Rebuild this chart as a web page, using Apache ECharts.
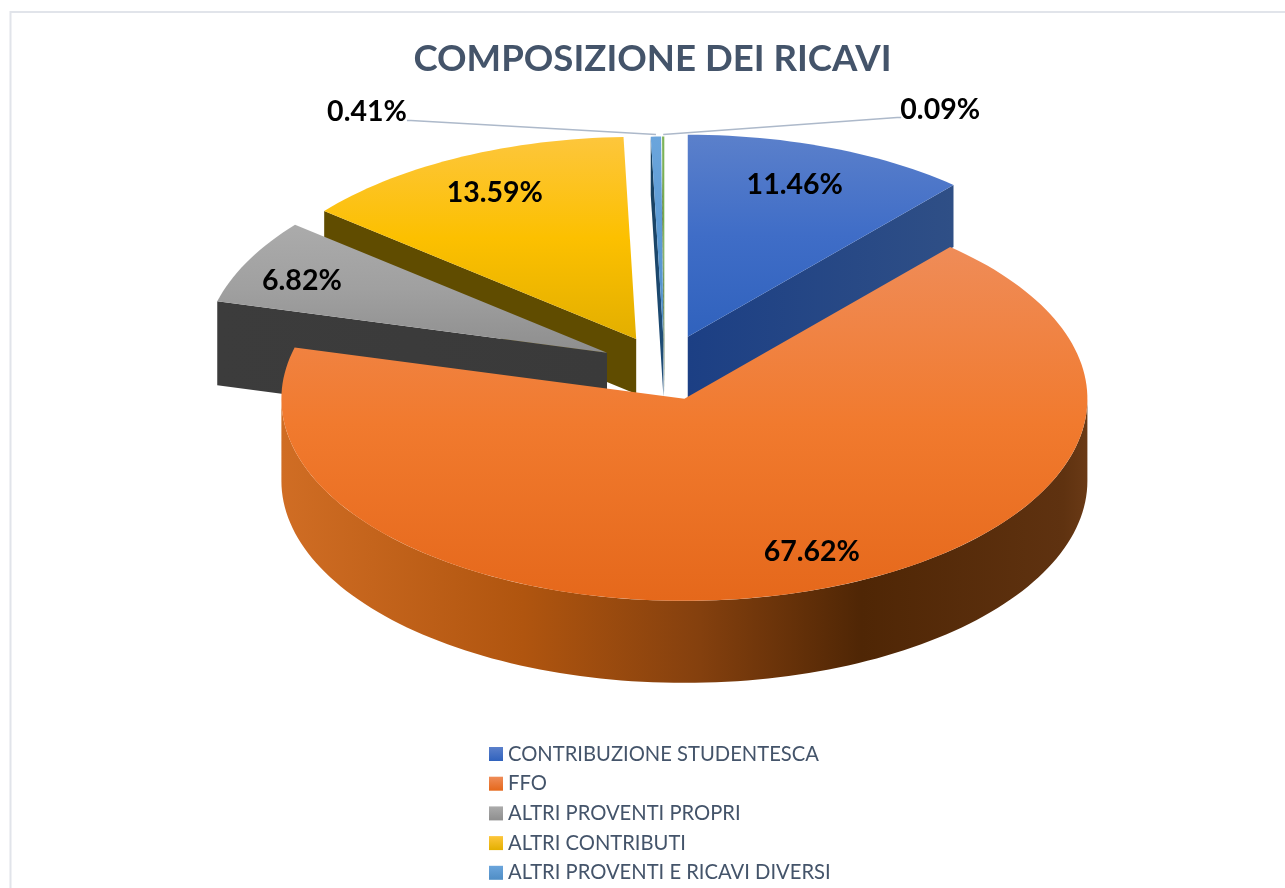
<!DOCTYPE html>
<html><head><meta charset="utf-8">
<style>html,body{margin:0;padding:0;background:#fff}#c{width:1285px;height:888px}</style>
<script src="https://cdn.jsdelivr.net/npm/echarts@6/dist/echarts.min.js"></script>
</head><body><div id="c"></div>
<script>
const titleText = 'COMPOSIZIONE DEI RICAVI';
const categories = ['CONTRIBUZIONE STUDENTESCA','FFO','ALTRI PROVENTI PROPRI','ALTRI CONTRIBUTI','ALTRI PROVENTI E RICAVI DIVERSI','ALTRO'];
const shares = [11.46, 67.62, 6.82, 13.59, 0.41, 0.09];
const legendCount = 5; // the sixth legend row falls below the picture

// --- styling of the tilted, exploded pie ---
const centre = {x:664.5, y:367}, RX = 403, RY = 202, EXPLODE_TILT = 0.49;
const explode = [66, 68, 64.5, 64, 58, 58];
const depth   = [62, 82, 84, 55, 58, 58];
const labelShift = [[-35,37],[9.5,-40],[54,20],[37,35],[-289,-25],[277,-27]];
const leaderShift = [null,null,null,null,[-245,-16],[234,-19]];
const drawOrder = [4,5,0,3,2,1];
const LABEL_FONT = 'bold 28.5px Lato, sans-serif';
const lg = (x2,y2,stops)=>({type:'linear',x:0,y:0,x2,y2,colorStops:stops.map((c,i)=>({offset:i/(stops.length-1),color:c}))});
const topFill = [
  lg(0,1,['#5b80cb','#3f6dc7','#3062bd']),
  lg(0,1,['#ef8c58','#f17a2e','#e5681b']),
  lg(0,1,['#ababab','#a0a0a0','#8e8e8e']),
  lg(0,1,['#fdc63c','#fcc000','#e3af00']),
  lg(0,1,['#6ba5dc','#5b9bd5','#4f8dc5']),
  lg(0,1,['#7fb45a','#70ad47','#64a03c'])
];
const wallFill = [
  lg(1,0,['#1c3f84','#2f4f86']), lg(1,0,['#5a2d0c','#5a2d0c']), lg(1,0,['#3c3c3c','#3a3a3a']),
  lg(1,0,['#604c00','#604c00']), lg(1,0,['#17405f','#1f4e79']), lg(1,0,['#385723','#385723'])
];
const rimFill = {type:'linear',x:0,y:0,x2:1,y2:0,colorStops:[
  {offset:0,color:'#d06d24'},{offset:.3,color:'#b0550f'},{offset:.52,color:'#84400e'},
  {offset:.72,color:'#4f2605'},{offset:.97,color:'#5f3210'},{offset:1,color:'#6a3a16'}]};
const legendFill = [
  lg(0,1,['#5b80cb','#3062bd']), lg(0,1,['#ef8c58','#e5681b']), lg(0,1,['#ababab','#8e8e8e']),
  lg(0,1,['#fdc63c','#e3af00']), lg(0,1,['#6ba5dc','#4f8dc5'])
];

const total = shares.reduce((a,b)=>a+b,0);
const RAD = Math.PI/180;
let run = 0;
const spans = shares.map(v=>{const s=run; run+=v/total*360; return [s,run];});
const pt = (a,th,dy)=>({x:a.x+RX*Math.sin(th*RAD), y:a.y-RY*Math.cos(th*RAD)+(dy||0)});
const arc = (a,t0,t1,dy)=>{const n=Math.max(2,Math.ceil(Math.abs(t1-t0)/1.5)),o=[];
  for(let i=0;i<=n;i++){const p=pt(a,t0+(t1-t0)*i/n,dy);o.push([p.x,p.y]);}return o;};

function renderSlice(params, api){
  const idx = api.value(1);
  const val = api.value(0);
  const [t0,t1] = spans[idx];
  const mid = (t0+t1)/2;
  const apex = {x:centre.x+explode[idx]*Math.sin(mid*RAD), y:centre.y-explode[idx]*Math.cos(mid*RAD)*EXPLODE_TILT};
  const d = depth[idx], kids = [];
  const poly = (points,fill)=>kids.push({type:'polygon',shape:{points},style:{fill}});
  const wall = (th)=>{const p=pt(apex,th);poly([[apex.x,apex.y],[p.x,p.y],[p.x,p.y+d],[apex.x,apex.y+d]],wallFill[idx]);};
  if(Math.sin(t0*RAD)<0) wall(t0);
  if(Math.sin(t1*RAD)>0.001) wall(t1);
  const r0=Math.max(t0,90), r1=Math.min(t1,270);
  if(r1>r0) poly(arc(apex,r0,r1,0).concat(arc(apex,r1,r0,d)),rimFill);
  poly([[apex.x,apex.y]].concat(arc(apex,t0,t1,0)),topFill[idx]);
  const rim = pt(apex,mid);
  const ls = labelShift[idx];
  if(leaderShift[idx]){
    const e = leaderShift[idx];
    kids.push({type:'polyline',shape:{points:[[rim.x,rim.y-2],[rim.x+e[0],rim.y+e[1]],[rim.x+e[0]+(e[0]<0?-4:4),rim.y+e[1]]]},
      style:{fill:'none',stroke:'#adb9ca',lineWidth:1.5}});
  }
  kids.push({type:'text',style:{x:rim.x+ls[0],y:rim.y+ls[1],text:val.toFixed(2)+'%',font:LABEL_FONT,fill:'#000',align:'center',verticalAlign:'middle'}});
  return {type:'group',children:kids};
}

const chart = echarts.init(document.getElementById('c'),null,{renderer:'canvas'});
chart.setOption({
  animation:false,
  backgroundColor:'#fff',
  title:{text:titleText,left:652.5,top:41,padding:0,textAlign:'center',textStyle:{fontFamily:'Lato, sans-serif',fontWeight:'bold',fontSize:36.6,color:'#44546a'}},
  legend:{orient:'vertical',left:489,top:744,padding:0,height:300,itemWidth:14,itemHeight:14,itemGap:9.7,itemStyle:{borderWidth:0},selectedMode:false,
    textStyle:{fontFamily:'Lato, sans-serif',fontSize:20.2,color:'#44546a'},
    data:categories.slice(0,legendCount).map((name,i)=>({name,icon:'rect',itemStyle:{color:legendFill[i]}}))},
  graphic:[{type:'rect',silent:true,z:-1,shape:{x:10.5,y:12,width:1400,height:1000},style:{fill:'none',stroke:'#e1e4ea',lineWidth:2}}],
  series:drawOrder.map(i=>({
    type:'custom',name:categories[i],coordinateSystem:'none',silent:true,clip:false,
    itemStyle:{color:legendFill[i]||'#70ad47'},
    renderItem:renderSlice,
    data:[[shares[i],i]]
  }))
});
</script></body></html>
